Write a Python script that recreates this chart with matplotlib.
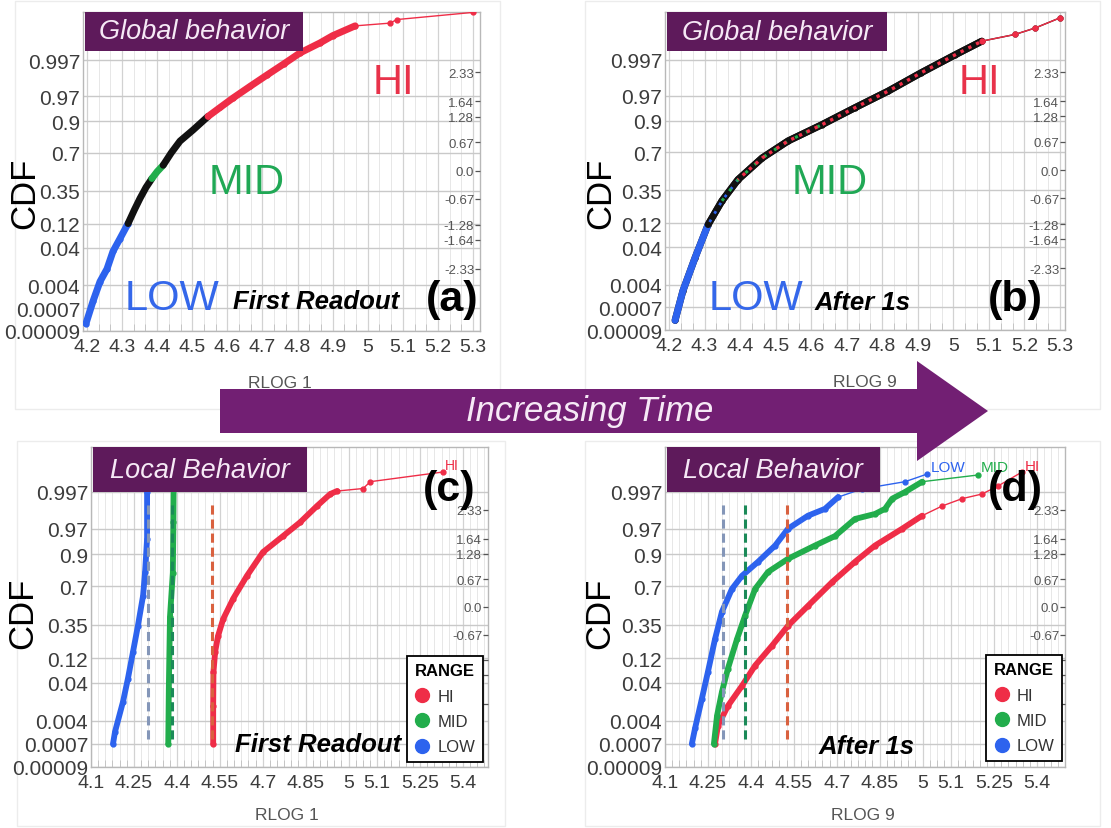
import numpy as np
import matplotlib
matplotlib.use("Agg")
import matplotlib.pyplot as plt
from matplotlib.patches import Rectangle, Polygon
from matplotlib.lines import Line2D
from matplotlib.ticker import MultipleLocator, NullLocator
from statistics import NormalDist

plt.rcParams['font.family'] = ['Liberation Sans', 'DejaVu Sans']

# ---------------- axis definitions ----------------
cdf_ticks = [0.00009, 0.0007, 0.004, 0.04, 0.12, 0.35, 0.7, 0.9, 0.97, 0.997]
cdf_labels = ['0.00009', '0.0007', '0.004', '0.04', '0.12', '0.35', '0.7', '0.9', '0.97', '0.997']
quantile_ticks = [-2.33, -1.64, -1.28, -0.67, 0.0, 0.67, 1.28, 1.64, 2.33]
quantile_labels = ['-2.33', '-1.64', '-1.28', '-0.67', '0.0', '0.67', '1.28', '1.64', '2.33']
# lower panels: the legend sits over the three lowest quantile labels
quantile_labels_legend = ['', '', '', '-0.67', '0.0', '0.67', '1.28', '1.64', '2.33']
rlog_ticks_top = [4.2, 4.3, 4.4, 4.5, 4.6, 4.7, 4.8, 4.9, 5.0, 5.1, 5.2, 5.3]
rlog_labels_top = ['4.2', '4.3', '4.4', '4.5', '4.6', '4.7', '4.8', '4.9', '5', '5.1', '5.2', '5.3']
rlog_ticks_bottom = [4.1, 4.25, 4.4, 4.55, 4.7, 4.85, 5.0, 5.1, 5.25, 5.4]
rlog_labels_bottom = ['4.1', '4.25', '4.4', '4.55', '4.7', '4.85', '5', '5.1', '5.25', '5.4']
range_names = ['HI', 'MID', 'LOW']

# ---------------- (a) global behaviour, first readout ----------------
a_low_x = [4.197, 4.217, 4.237, 4.257, 4.274, 4.294, 4.317]
a_low_p = [0.00018, 0.0012, 0.0052, 0.012, 0.033, 0.063, 0.121]
a_dark1_x = [4.317, 4.335, 4.351, 4.368, 4.385]
a_dark1_p = [0.121, 0.20, 0.285, 0.38, 0.464]
a_mid_x = [4.385, 4.400, 4.417]
a_mid_p = [0.464, 0.53, 0.59]
a_dark2_x = [4.417, 4.440, 4.465, 4.502, 4.545]
a_dark2_p = [0.59, 0.70, 0.79, 0.858, 0.919]
a_hi_x = [4.545, 4.580, 4.616, 4.665, 4.713, 4.760, 4.807, 4.864, 4.900, 4.964, 5.063, 5.083, 5.300]
a_hi_p = [0.919, 0.947, 0.967, 0.983, 0.9916, 0.996, 0.99825, 0.99921, 0.99957, 0.99982,
          0.99986, 0.9999, 0.99995]
a_hi_dense = 10

# ---------------- (b) global behaviour, after 1 s ----------------
b_x = [4.217, 4.239, 4.273, 4.310, 4.349, 4.394, 4.462, 4.535, 4.630, 4.723, 4.816, 4.910,
       5.005, 5.080, 5.173, 5.230, 5.300]
b_p = [0.00022, 0.0025, 0.022, 0.113, 0.261, 0.448, 0.652, 0.788, 0.883, 0.945, 0.977,
       0.9927, 0.99795, 0.99931, 0.99961, 0.99978, 0.999915]
b_dense = 14
b_low_count = 4

# ---------------- (c) local behaviour, first readout ----------------
c_low_x = [4.177, 4.184, 4.212, 4.229, 4.247, 4.264, 4.282, 4.289, 4.296, 4.296, 4.294]
c_low_p = [0.0007, 0.0018, 0.0139, 0.0485, 0.154, 0.341, 0.618, 0.805, 0.9495, 0.997, 0.99886]
c_mid_x = [4.370, 4.372, 4.376, 4.386, 4.388, 4.389]
c_mid_p = [0.0007, 0.029, 0.42, 0.80, 0.979, 0.99886]
c_hi_x = [4.527, 4.527, 4.528, 4.534, 4.544, 4.562, 4.597, 4.645, 4.701, 4.771, 4.831, 4.890,
          4.936, 4.960, 5.051, 5.076, 5.331]
c_hi_p = [0.0007, 0.0107, 0.0668, 0.154, 0.258, 0.401, 0.591, 0.779, 0.908, 0.956, 0.979,
          0.9922, 0.99653, 0.9972, 0.99767, 0.99861, 0.99936]
c_dense = {'LOW': 11, 'MID': 6, 'HI': 14}
c_means = {'HI': 4.523, 'MID': 4.383, 'LOW': 4.300}

# ---------------- (d) local behaviour, after 1 s ----------------
d_low_x = [4.194, 4.205, 4.229, 4.250, 4.275, 4.299, 4.334, 4.369, 4.425, 4.485, 4.530, 4.600,
           4.659, 4.705, 4.789, 4.939, 5.016]
d_low_p = [0.0007, 0.0023, 0.0166, 0.0668, 0.236, 0.468, 0.677, 0.779, 0.864, 0.931, 0.970,
           0.9857, 0.9906, 0.9957, 0.9976, 0.99861, 0.99924]
d_mid_x = [4.271, 4.282, 4.299, 4.320, 4.352, 4.380, 4.415, 4.460, 4.530, 4.624, 4.694, 4.764,
           4.834, 4.869, 4.894, 4.939, 4.999, 5.194]
d_mid_p = [0.0007, 0.0057, 0.0244, 0.0778, 0.236, 0.433, 0.677, 0.805, 0.879, 0.931, 0.956,
           0.9826, 0.9871, 0.9906, 0.9952, 0.997, 0.99861, 0.99918]
d_hi_x = [4.275, 4.285, 4.320, 4.369, 4.415, 4.474, 4.530, 4.600, 4.684, 4.764, 4.834, 4.929,
          4.999, 5.069, 5.138, 5.208, 5.264, 5.348]
d_hi_p = [0.0007, 0.0028, 0.0107, 0.0336, 0.0885, 0.189, 0.341, 0.524, 0.732, 0.864, 0.931,
          0.970, 0.9857, 0.9922, 0.9952, 0.99653, 0.99807, 0.99936]
d_dense = {'LOW': 14, 'MID': 17, 'HI': 13}
d_means = {'HI': 4.525, 'MID': 4.380, 'LOW': 4.304}

# ---------------- colours ----------------
RED = '#ef2d47'
GREEN = '#22ad4c'
BLUE = '#2d63ee'
DARK = '#111111'
PURPLE = '#5e1a5b'
ARROW = '#721f73'
range_colors = {'HI': RED, 'MID': GREEN, 'LOW': BLUE}
mean_colors = {'HI': '#d9613f', 'MID': '#1b8a58', 'LOW': '#8496b8'}

# ---------------- normal-probability scale ----------------
_nd = NormalDist()
_inv = np.vectorize(_nd.inv_cdf, otypes=[float])
_cdf = np.vectorize(_nd.cdf, otypes=[float])


def p_to_z(p):
    p = np.asarray(p, dtype=float)
    p = np.where(np.isfinite(p), p, 0.5)
    return _inv(np.clip(p, 1e-12, 1 - 1e-12))


def z_to_p(z):
    z = np.asarray(z, dtype=float)
    z = np.where(np.isfinite(z), z, 0.0)
    return _cdf(z)


W, H = 1111, 829
fig = plt.figure(figsize=(W / 100, H / 100), dpi=100)


def px_rect(x0, y0, x1, y1):
    return [x0 / W, 1 - y1 / H, (x1 - x0) / W, (y1 - y0) / H]


# faint frames around each panel
for (x0, y0, x1, y1) in [(15, 2, 500, 410), (585, 2, 1100, 410),
                         (17, 442, 505, 827), (585, 442, 1100, 827)]:
    fig.add_artist(Rectangle((x0 / W, 1 - y1 / H), (x1 - x0) / W, (y1 - y0) / H,
                             transform=fig.transFigure, facecolor='none',
                             edgecolor='#ececec', lw=1.0, zorder=0))


def setup(rect, xlim, xticks, xlabels, xminor, ztop, zright, qlabels, xlabel, xlab_pos, ylab_pos):
    ax = fig.add_axes(rect)
    ax.set_yscale('function', functions=(p_to_z, z_to_p))
    ax.set_xlim(*xlim)
    ax.set_ylim(float(z_to_p(-3.74)), float(z_to_p(ztop)))
    ax.set_xticks(xticks, xlabels)
    ax.xaxis.set_minor_locator(MultipleLocator(xminor))
    ax.set_yticks(cdf_ticks, cdf_labels)
    ax.yaxis.set_minor_locator(NullLocator())
    ax.grid(which='major', axis='x', color='#d2d2d2', lw=0.9)
    ax.grid(which='minor', axis='x', color='#e7e7e7', lw=0.7)
    ax.grid(which='major', axis='y', color='#c9c9c9', lw=1.0)
    ax.set_axisbelow(True)
    ax.tick_params(axis='x', which='major', length=0, pad=5, labelsize=14, labelcolor='#3c3c3c')
    ax.tick_params(axis='x', which='minor', direction='in', length=5, width=0.7, color='#c4c4c4')
    ax.tick_params(axis='y', which='major', length=0, pad=2, labelsize=15, labelcolor='#3c3c3c')
    for s in ax.spines.values():
        s.set_color('#b8b8b8')
        s.set_linewidth(1.0)
    ax.set_xlabel(xlabel, fontsize=12.5, color='#555555')
    ax.xaxis.set_label_coords(*xlab_pos)
    ax.xaxis.label.set_va('center')
    ax.set_ylabel('CDF', fontsize=25, color='black')
    ax.yaxis.set_label_coords(*ylab_pos)
    ax.yaxis.label.set_va('center')

    ax2 = ax.twinx()
    ax2.set_ylim(*zright)
    ax2.set_yticks(quantile_ticks, qlabels)
    ax2.tick_params(axis='y', direction='in', length=3.5, width=0.9, color='#555555',
                    pad=-4.2, labelsize=9.5, labelcolor='#555555')
    for lbl in ax2.yaxis.get_majorticklabels():
        lbl.set_horizontalalignment('right')
    for s in ax2.spines.values():
        s.set_visible(False)
    return ax, ax2


def title_box(ax, x1, ybot, text):
    ax.add_patch(Rectangle((0.004, ybot), x1 - 0.004, 1 - ybot, transform=ax.transAxes,
                           facecolor=PURPLE, edgecolor='none', zorder=10, clip_on=False))
    ax.text(x1 / 2 + 0.002, (1 + ybot) / 2, text, transform=ax.transAxes, ha='center',
            va='center', fontsize=19.5, style='italic', color='#f6e9f6', zorder=11)


def draw_curve(ax, x, p, color, n_dense, lw, ms):
    ax.plot(x, p, color=color, lw=1.0, marker='o', ms=ms, mec=color, mfc=color, zorder=3)
    ax.plot(x[:n_dense], p[:n_dense], color=color, lw=lw, solid_capstyle='round',
            solid_joinstyle='round', zorder=3)


# ======================= panel (a) =======================
ax_a, ax_a2 = setup(px_rect(83, 13, 480, 332), (4.1886, 5.3197), rlog_ticks_top, rlog_labels_top,
                    0.1 / 3, 3.90, (-3.80, 3.76), quantile_labels, 'RLOG 1', (0.496, -0.16),
                    (-0.146, 0.436))
draw_curve(ax_a, a_low_x, a_low_p, BLUE, len(a_low_x), 5.0, 3.5)
draw_curve(ax_a, a_dark1_x, a_dark1_p, DARK, len(a_dark1_x), 5.0, 0)
draw_curve(ax_a, a_mid_x, a_mid_p, GREEN, len(a_mid_x), 5.0, 0)
draw_curve(ax_a, a_dark2_x, a_dark2_p, DARK, len(a_dark2_x), 5.0, 0)
draw_curve(ax_a, a_hi_x, a_hi_p, RED, a_hi_dense, 5.0, 3.5)
title_box(ax_a, 0.554, 0.878, 'Global behavior')
ax_a2.text(0.781, 0.781, 'HI', transform=ax_a2.transAxes, ha='center', va='center', fontsize=30, color='#e8324a')
ax_a2.text(0.413, 0.467, 'MID', transform=ax_a2.transAxes, ha='center', va='center', fontsize=30, color='#20a855')
ax_a2.text(0.224, 0.103, 'LOW', transform=ax_a2.transAxes, ha='center', va='center', fontsize=30, color='#3467ea')
ax_a2.text(0.587, 0.094, 'First Readout', transform=ax_a2.transAxes, ha='center', va='center',
           fontsize=18.5, weight='bold', style='italic', color='black')
ax_a2.text(0.929, 0.100, '(a)', transform=ax_a2.transAxes, ha='center', va='center',
           fontsize=31, weight='bold', color='black')

# ======================= panel (b) =======================
ax_b, ax_b2 = setup(px_rect(665, 13, 1065, 331), (4.1887, 5.314), rlog_ticks_top, rlog_labels_top,
                    0.1 / 3, 3.90, (-3.80, 3.76), quantile_labels, 'RLOG 9', (0.5, -0.1635),
                    (-0.16, 0.434))
bx = np.array(b_x)
bp = np.array(b_p)
draw_curve(ax_b, bx, bp, '#1e1212', b_dense, 5.0, 3.5)
ax_b.plot(bx[:b_low_count], bp[:b_low_count], color=BLUE, lw=5.0, solid_capstyle='round', zorder=3)
ax_b.plot(bx[b_low_count - 1:b_dense], bp[b_low_count - 1:b_dense], color=DARK, lw=5.0,
          solid_capstyle='round', zorder=3)
ax_b.plot(bx[2:6], bp[2:6], color=BLUE, lw=2.0, ls=(0, (1, 2.5)), zorder=4)
ax_b.plot(bx[4:9], bp[4:9], color=GREEN, lw=2.2, ls=(0, (1, 3)), zorder=4)
ax_b.plot(bx[5:b_dense], bp[5:b_dense], color=RED, lw=2.4, ls=(0.7, (1, 1.6)), zorder=4)
ax_b.plot(bx[b_dense - 1:], bp[b_dense - 1:], color=RED, lw=1.0, marker='o', ms=3.5, zorder=4)
title_box(ax_b, 0.555, 0.877, 'Global behavior')
ax_b2.text(0.785, 0.78, 'HI', transform=ax_b2.transAxes, ha='center', va='center', fontsize=30, color='#e8324a')
ax_b2.text(0.4125, 0.465, 'MID', transform=ax_b2.transAxes, ha='center', va='center', fontsize=30, color='#20a855')
ax_b2.text(0.2275, 0.10, 'LOW', transform=ax_b2.transAxes, ha='center', va='center', fontsize=30, color='#3467ea')
ax_b2.text(0.495, 0.088, 'After 1s', transform=ax_b2.transAxes, ha='center', va='center',
           fontsize=18.5, weight='bold', style='italic', color='black')
ax_b2.text(0.875, 0.097, '(b)', transform=ax_b2.transAxes, ha='center', va='center',
           fontsize=31, weight='bold', color='black')


def legend(ax2, anchor):
    handles = [Line2D([], [], ls='none', marker='o', ms=10, mfc=range_colors[n], mec=range_colors[n],
                      label=n) for n in range_names]
    leg = ax2.legend(handles=handles, title='RANGE', loc='lower right', bbox_to_anchor=anchor,
                     frameon=True, fancybox=False, edgecolor='black', framealpha=1, fontsize=12,
                     title_fontproperties={'weight': 'bold', 'size': 12}, handletextpad=0.4,
                     borderpad=0.45, labelspacing=0.62, handlelength=1.0, borderaxespad=0)
    leg.get_frame().set_linewidth(1.3)
    for t in leg.get_texts():
        t.set_color('#333333')
    leg.set_zorder(20)


# ======================= panel (c) =======================
ax_c, ax_c2 = setup(px_rect(91, 448, 488, 768), (4.1, 5.4874), rlog_ticks_bottom, rlog_labels_bottom,
                    0.025, 3.81, (-3.84, 3.84), quantile_labels_legend, 'RLOG 1', (0.494, -0.15),
                    (-0.171, 0.484))
for name, xs, ps in [('LOW', c_low_x, c_low_p), ('MID', c_mid_x, c_mid_p), ('HI', c_hi_x, c_hi_p)]:
    draw_curve(ax_c, xs, ps, range_colors[name], c_dense[name], 4.2, 3.5)
for name in range_names:
    ax_c.vlines(c_means[name], 0.001, 0.993, colors=mean_colors[name], lw=2.2,
                linestyles=(0, (3, 1.6)), zorder=4)
title_box(ax_c, 0.544, 0.859, 'Local Behavior')
ax_c2.text(0.909, 0.944, 'HI', transform=ax_c2.transAxes, ha='center', va='center', fontsize=10, color=RED)
ax_c2.text(0.902, 0.869, '(c)', transform=ax_c2.transAxes, ha='center', va='center',
           fontsize=31, weight='bold', color='black')
ax_c2.text(0.572, 0.072, 'First Readout', transform=ax_c2.transAxes, ha='center', va='center',
           fontsize=18.5, weight='bold', style='italic', color='black')
legend(ax_c2, (0.987, 0.016))

# ======================= panel (d) =======================
ax_d, ax_d2 = setup(px_rect(665, 448, 1065, 768), (4.1, 5.498), rlog_ticks_bottom, rlog_labels_bottom,
                    0.025, 3.81, (-3.84, 3.84), quantile_labels_legend, 'RLOG 9', (0.495, -0.15),
                    (-0.1625, 0.484))
for name, xs, ps in [('HI', d_hi_x, d_hi_p), ('MID', d_mid_x, d_mid_p), ('LOW', d_low_x, d_low_p)]:
    draw_curve(ax_d, xs, ps, range_colors[name], d_dense[name], 4.2, 3.5)
for name in range_names:
    ax_d.vlines(d_means[name], 0.001, 0.993, colors=mean_colors[name], lw=2.2,
                linestyles=(0, (3, 1.6)), zorder=4)
title_box(ax_d, 0.5375, 0.859, 'Local Behavior')
ax_d2.text(0.7075, 0.9375, 'LOW', transform=ax_d2.transAxes, ha='center', va='center', fontsize=11, color=BLUE)
ax_d2.text(0.825, 0.9375, 'MID', transform=ax_d2.transAxes, ha='center', va='center', fontsize=11, color=GREEN)
ax_d2.text(0.9175, 0.94, 'HI', transform=ax_d2.transAxes, ha='center', va='center', fontsize=11, color=RED)
ax_d2.text(0.875, 0.869, '(d)', transform=ax_d2.transAxes, ha='center', va='center',
           fontsize=31, weight='bold', color='black')
ax_d2.text(0.505, 0.066, 'After 1s', transform=ax_d2.transAxes, ha='center', va='center',
           fontsize=18.5, weight='bold', style='italic', color='black')
legend(ax_d2, (0.9925, 0.019))

# ======================= time arrow =======================
arrow_px = [(220, 390), (917, 390), (917, 362), (988, 412), (917, 462), (917, 434), (220, 434)]
fig.add_artist(Polygon([(x / W, 1 - y / H) for x, y in arrow_px], closed=True,
                       transform=fig.transFigure, facecolor=ARROW, edgecolor='none', zorder=30))
fig.text(590 / W, 1 - 412 / H, 'Increasing Time', ha='center', va='center', fontsize=25,
         style='italic', color='#f6e9f6', zorder=31)

fig.savefig('out.png', dpi=100)
